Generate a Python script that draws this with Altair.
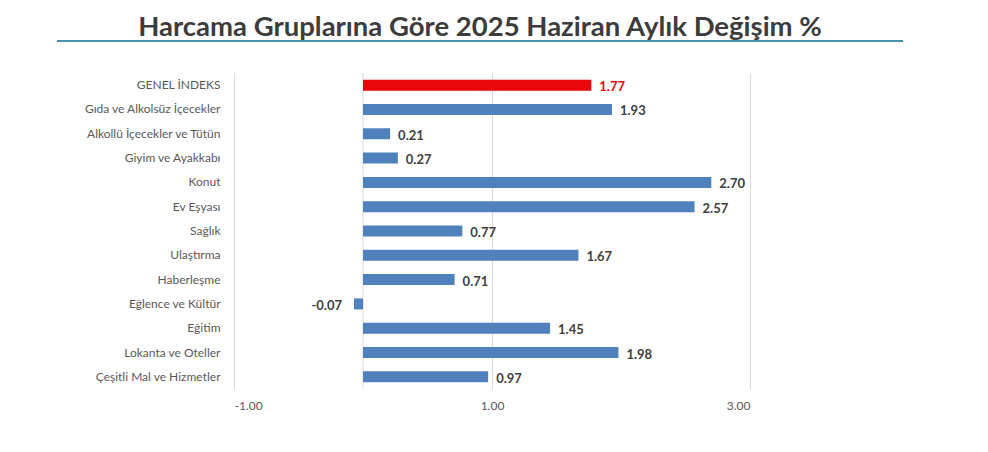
import altair as alt
import pandas as pd

title_text = "Harcama Gruplarına Göre 2025 Haziran Aylık Değişim %"
categories = [
    "GENEL İNDEKS",
    "Gıda ve Alkolsüz İçecekler",
    "Alkollü İçecekler ve Tütün",
    "Giyim ve Ayakkabı",
    "Konut",
    "Ev Eşyası",
    "Sağlık",
    "Ulaştırma",
    "Haberleşme",
    "Eğlence ve Kültür",
    "Eğitim",
    "Lokanta ve Oteller",
    "Çeşitli Mal ve Hizmetler",
]
values = [1.77, 1.93, 0.21, 0.27, 2.70, 2.57, 0.77, 1.67, 0.71, -0.07, 1.45, 1.98, 0.97]
highlight = ["GENEL İNDEKS"]
axis_ticks = [-1, 1, 3]

df = pd.DataFrame({"cat": categories, "val": values})
df["is_total"] = df["cat"].isin(highlight)
df["lbl"] = df["val"].map(lambda v: f"{v:.2f}")

FONT = "Lato"
xscale = alt.Scale(domain=[-1, 3], nice=False, zero=False)
ysort = categories

base = alt.Chart(df)

bars = base.mark_bar(size=11).encode(
    y=alt.Y("cat:N", sort=ysort, title=None,
            axis=alt.Axis(labelFont=FONT, labelFontSize=12, labelColor="#595959",
                          labelPadding=14, ticks=False, domain=False, grid=False,
                          labelLimit=300)),
    x=alt.X("val:Q", scale=xscale, title=None,
            axis=alt.Axis(values=axis_ticks, format=".2f",
                          labelExpr="replace(datum.label, '\u2212', '-')",
                          labelFont=FONT,
                          labelFontSize=12, labelColor="#595959", labelPadding=11,
                          ticks=False, domain=False, grid=True, gridColor="#d9d9d9",
                          gridWidth=1)),
    color=alt.condition(alt.datum.is_total, alt.value("#e8070b"), alt.value("#4f81bd")),
)

zero_rule = alt.Chart(pd.DataFrame({"z": [0]})).mark_rule(color="#d9d9d9", strokeWidth=1).encode(
    x=alt.X("z:Q", scale=xscale),
)

pos_labels = base.transform_filter(alt.datum.val >= 0).mark_text(
    align="left", baseline="middle", dx=8, dy=2, font=FONT, fontSize=13, fontWeight="bold"
).encode(
    y=alt.Y("cat:N", sort=ysort),
    x=alt.X("val:Q", scale=xscale),
    text="lbl:N",
    color=alt.condition(alt.datum.is_total, alt.value("#e8070b"), alt.value("#404040")),
)

neg_labels = base.transform_filter(alt.datum.val < 0).mark_text(
    align="right", baseline="middle", dx=-12, dy=2, font=FONT, fontSize=13, fontWeight="bold",
    color="#404040"
).encode(
    y=alt.Y("cat:N", sort=ysort),
    x=alt.X("val:Q", scale=xscale),
    text="lbl:N",
)

underline = alt.Chart(pd.DataFrame({"a": [0]})).mark_rule(
    color="#4a8fa8", strokeWidth=2
).encode(
    x=alt.value(-177), x2=alt.value(669), y=alt.value(-32)
)

title_mark = alt.Chart(pd.DataFrame({"t": [title_text]})).mark_text(
    font=FONT, fontSize=27.5, fontWeight="bold", color="#3c3c3c",
    align="center", baseline="alphabetic"
).encode(
    text="t:N", x=alt.value(246), y=alt.value(-37)
)

chart = alt.layer(zero_rule, bars, pos_labels, neg_labels, underline, title_mark).properties(
    width=516,
    height=316,
    autosize=alt.AutoSizeParams(type="none"),
    padding={"left": 226, "top": 65, "right": 230, "bottom": 55},
).configure_view(stroke=None)

chart.save("out.html", embed_options={"renderer": "svg", "actions": False})
